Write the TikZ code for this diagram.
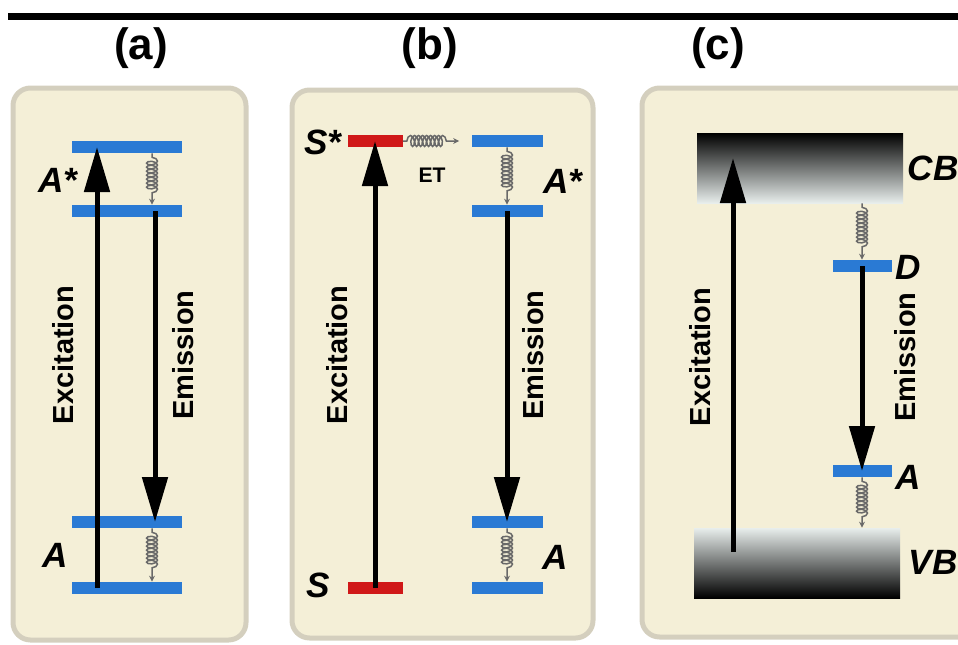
\documentclass[tikz,border=0pt]{standalone}
\usepackage{fontspec}
\setmainfont{Liberation Sans}
\usetikzlibrary{arrows.meta,positioning,decorations.pathmorphing}
\definecolor{panelfill}{RGB}{244,239,215}
\definecolor{paneledge}{RGB}{212,207,190}
\definecolor{levelblue}{RGB}{42,122,212}
\definecolor{levelred}{RGB}{208,24,24}
\definecolor{springgray}{RGB}{105,105,105}
\definecolor{bandpale}{RGB}{232,238,236}
\definecolor{bandmid}{RGB}{88,110,112}
\begin{document}
\begin{tikzpicture}[x=0.2mm,y=-0.2mm,
    panel/.style={draw=paneledge,line width=1mm,fill=panelfill,rounded corners=3.5mm},
    level/.style={fill=levelblue,inner sep=0pt,minimum height=2.4mm},
    band/.style={inner sep=0pt,minimum width=41.2mm,minimum height=14mm},
    trans/.style={line width=1mm,-{Triangle[length=9mm,width=5mm]}},
    spring/.style={springgray,line width=0.3mm,-{Stealth[length=1.2mm,width=1.2mm]},
      decorate,decoration={coil,amplitude=1.1mm,segment length=0.8mm,pre length=0.8mm,post length=2mm}},
    heading/.style={font=\fontsize{25}{30}\selectfont\bfseries},
    lbl/.style={font=\fontsize{20}{24}\selectfont\bfseries\itshape},
    proc/.style={font=\fontsize{16.5}{20}\selectfont\bfseries,rotate=90}
  ]
    \clip (0,0) rectangle (958,644);
    \fill (8,13) rectangle (958,20);
    \node[heading] (ha) at (141,48) {(a)};
    \node[heading] (hb) at (430,48) {(b)};
    \node[heading] (hc) at (718,48) {(c)};
    % panels
    \draw[panel] (13,88) rectangle (246,640);
    \draw[panel] (292,90) rectangle (593,638);
    \draw[panel] (642,88) rectangle (1000,637);
    % (a)
    \foreach \n/\y in {1/147,2/211,3/522,4/588}
      \node[level,minimum width=22mm] (a\n) at (127,\y) {};
    \draw[trans] ([xshift=-6mm]a4.center) -- ([xshift=-6mm]a1.center);
    \draw[trans] ([xshift=5.6mm]a2.center) -- ([xshift=5.6mm]a3.center);
    \draw[spring] ([xshift=5mm]a1.south) -- ([xshift=5mm]a2.north);
    \draw[spring] ([xshift=5mm]a3.south) -- ([xshift=5mm]a4.north);
    \node[lbl] (la1) at (58,180) {A*};
    \node[lbl] (la0) at (55,555) {A};
    \node[proc] (exa) at (63,355) {Excitation};
    \node[proc] (ema) at (183,355) {Emission};
    % (b)
    \node[level,fill=levelred,minimum width=11mm] (s1) at (375,141) {};
    \node[level,fill=levelred,minimum width=11mm] (s0) at (375,588) {};
    \foreach \n/\y in {1/141,2/211,3/522,4/588}
      \node[level,minimum width=14.2mm] (b\n) at (507,\y) {};
    \draw[trans] (s0.center) -- (s1.center);
    \draw[trans] (b2.center) -- (b3.center);
    \draw[spring] (b1.south) -- (b2.north);
    \draw[spring] (b3.south) -- (b4.north);
    \draw[spring] (s1.east) -- ([xshift=-2.4mm]b1.west);
    \node[lbl] (ls1) at (323,142) {S*};
    \node[font=\fontsize{12}{14}\selectfont\bfseries] (et) at (432,175) {ET};
    \node[lbl] (lb1) at (563,181) {A*};
    \node[lbl] (ls0) at (318,585) {S};
    \node[lbl] (lb0) at (555,557) {A};
    \node[proc] (exb) at (337,355) {Excitation};
    \node[proc] (emb) at (533,355) {Emission};
    % (c)
    \node[band,top color=black,middle color=bandmid,bottom color=bandpale] (cb) at (800,168) {};
    \node[band,top color=bandpale,middle color=bandmid,bottom color=black] (vb) at (797,563) {};
    \node[level,minimum width=11.8mm] (d) at (862,266) {};
    \node[level,minimum width=11.8mm] (ca) at (862,471) {};
    \draw[trans] ([xshift=-12.8mm,yshift=2.2mm]vb.center) -- ([xshift=-13.4mm,yshift=2mm]cb.center);
    \draw[trans] (d.center) -- (ca.center);
    \draw[spring] (cb.south -| d.north) -- (d.north);
    \draw[spring] (ca.south) -- (vb.north -| ca.south);
    \node[lbl] (lcb) at (933,168) {CB};
    \node[lbl] (ld) at (908,267) {D};
    \node[lbl] (lca) at (908,477) {A};
    \node[lbl] (lvb) at (933,562) {VB};
    \node[proc] (exc) at (700,357) {Excitation};
    \node[proc] (emc) at (905,357) {Emission};
\end{tikzpicture}
\end{document}
